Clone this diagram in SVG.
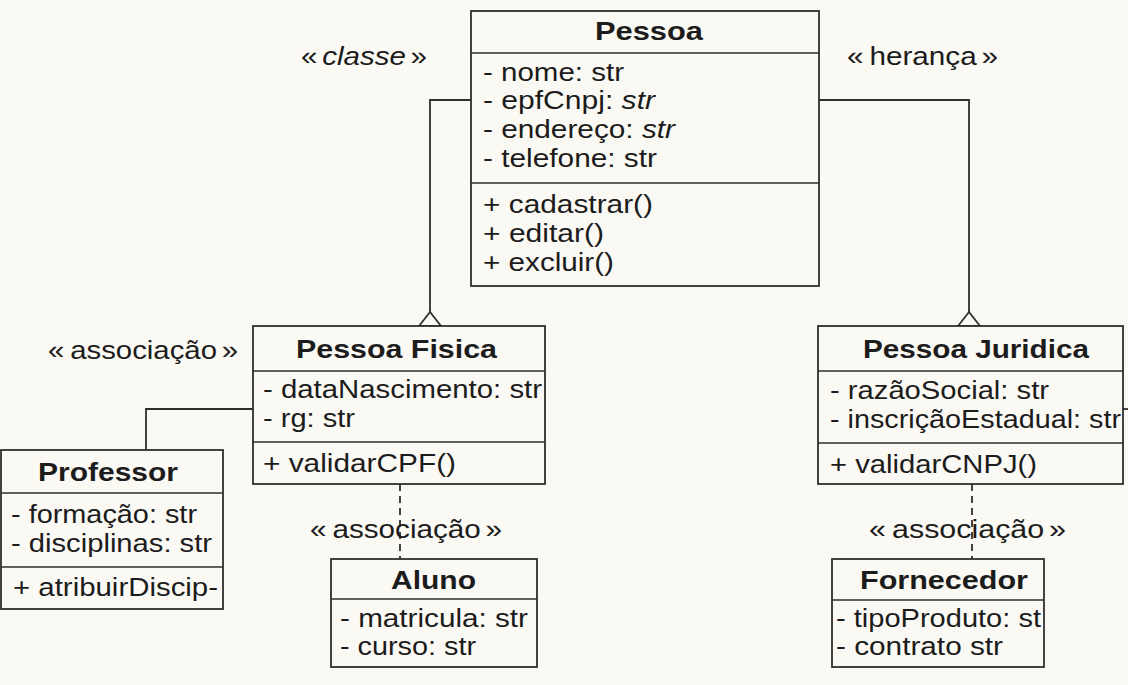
<svg xmlns="http://www.w3.org/2000/svg" width="1128" height="685" viewBox="0 0 1128 685">
<style>
text{font-family:"Liberation Sans",Arial,sans-serif;font-size:25px;fill:#1c1c1c}
.t{font-weight:bold;font-size:26px}
.i{font-style:italic}
.box{fill:#fbf9f4;stroke:#2e2e2e;stroke-width:1.8}
.div{stroke:#2e2e2e;stroke-width:1.5}
.ln{fill:none;stroke:#2e2e2e;stroke-width:1.8}
.dash{fill:none;stroke:#2e2e2e;stroke-width:1.8;stroke-dasharray:7 5}
.tri{fill:#fbf9f4;stroke:#2e2e2e;stroke-width:1.8}
</style>
<rect width="1128" height="685" fill="#fbf9f4"/>
<g id="connectors">
<polyline class="ln" points="471,100 430,100 430,312"/>
<polygon class="tri" points="430,312 419,326 441,326"/>
<polyline class="ln" points="819,100 969,100 969,312"/>
<polygon class="tri" points="969,312 958,326 980,326"/>
<polyline class="ln" points="253,409 146,409 146,450"/>
<line class="dash" x1="400" y1="484" x2="400" y2="559"/>
<line class="dash" x1="972" y1="484" x2="972" y2="559"/>
<line class="ln" x1="1123" y1="409" x2="1128" y2="409"/>
</g>
<g id="labels">
<text x="301" y="65" textLength="126" lengthAdjust="spacingAndGlyphs">«<tspan class="i" dx="4">classe</tspan><tspan dx="4">»</tspan></text>
<text x="847" y="65" textLength="151" lengthAdjust="spacingAndGlyphs">«<tspan dx="5">herança</tspan><tspan dx="4">»</tspan></text>
<text x="48" y="359" textLength="190" lengthAdjust="spacingAndGlyphs">«<tspan dx="5">associação</tspan><tspan dx="4">»</tspan></text>
<text x="310" y="538" textLength="192" lengthAdjust="spacingAndGlyphs">«<tspan dx="5">associação</tspan><tspan dx="4">»</tspan></text>
<text x="869" y="538" textLength="197" lengthAdjust="spacingAndGlyphs">«<tspan dx="5">associação</tspan><tspan dx="4">»</tspan></text>
</g>
<g id="pessoa">
<rect class="box" x="471" y="11" width="348" height="275"/>
<line class="div" x1="471" y1="53" x2="819" y2="53"/>
<line class="div" x1="471" y1="183" x2="819" y2="183"/>
<text class="t" x="595" y="40" textLength="108" lengthAdjust="spacingAndGlyphs">Pessoa</text>
<text x="483" y="81" textLength="141" lengthAdjust="spacingAndGlyphs">- nome: str</text>
<text x="483" y="109" textLength="172" lengthAdjust="spacingAndGlyphs">- epfCnpj: <tspan class="i">str</tspan></text>
<text x="483" y="138" textLength="192" lengthAdjust="spacingAndGlyphs">- endereço: <tspan class="i">str</tspan></text>
<text x="483" y="167" textLength="174" lengthAdjust="spacingAndGlyphs">- telefone: str</text>
<text x="483" y="213" textLength="170" lengthAdjust="spacingAndGlyphs">+ cadastrar()</text>
<text x="483" y="242" textLength="121" lengthAdjust="spacingAndGlyphs">+ editar()</text>
<text x="483" y="271" textLength="131" lengthAdjust="spacingAndGlyphs">+ excluir()</text>
</g>
<g id="pessoa-fisica">
<rect class="box" x="253" y="326" width="292" height="158"/>
<line class="div" x1="253" y1="371" x2="545" y2="371"/>
<line class="div" x1="253" y1="442" x2="545" y2="442"/>
<text class="t" x="296" y="358" textLength="201" lengthAdjust="spacingAndGlyphs">Pessoa Fisica</text>
<text x="263" y="398" textLength="279" lengthAdjust="spacingAndGlyphs">- dataNascimento: str</text>
<text x="263" y="427" textLength="92" lengthAdjust="spacingAndGlyphs">- rg: str</text>
<text x="263" y="472" textLength="193" lengthAdjust="spacingAndGlyphs">+ validarCPF()</text>
</g>
<g id="pessoa-juridica">
<rect class="box" x="818" y="326" width="305" height="158"/>
<line class="div" x1="818" y1="371" x2="1123" y2="371"/>
<line class="div" x1="818" y1="443" x2="1123" y2="443"/>
<text class="t" x="863" y="358" textLength="226" lengthAdjust="spacingAndGlyphs">Pessoa Juridica</text>
<text x="830" y="399" textLength="219" lengthAdjust="spacingAndGlyphs">- razãoSocial: str</text>
<text x="830" y="428" textLength="291" lengthAdjust="spacingAndGlyphs">- inscriçãoEstadual: str</text>
<text x="830" y="473" textLength="207" lengthAdjust="spacingAndGlyphs">+ validarCNPJ()</text>
</g>
<g id="professor">
<rect class="box" x="1" y="450" width="222" height="159"/>
<line class="div" x1="1" y1="493" x2="223" y2="493"/>
<line class="div" x1="1" y1="567" x2="223" y2="567"/>
<text class="t" x="38" y="481" textLength="140" lengthAdjust="spacingAndGlyphs">Professor</text>
<text x="11" y="523" textLength="186" lengthAdjust="spacingAndGlyphs">- formação: str</text>
<text x="11" y="552" textLength="201" lengthAdjust="spacingAndGlyphs">- disciplinas: str</text>
<text x="13" y="596" textLength="205" lengthAdjust="spacingAndGlyphs">+ atribuirDiscip-</text>
</g>
<g id="aluno">
<rect class="box" x="331" y="559" width="206" height="108"/>
<line class="div" x1="331" y1="599" x2="537" y2="599"/>
<text class="t" x="391" y="589" textLength="85" lengthAdjust="spacingAndGlyphs">Aluno</text>
<text x="340" y="627" textLength="188" lengthAdjust="spacingAndGlyphs">- matricula: str</text>
<text x="340" y="655" textLength="136" lengthAdjust="spacingAndGlyphs">- curso: str</text>
</g>
<g id="fornecedor">
<rect class="box" x="832" y="559" width="212" height="108"/>
<line class="div" x1="832" y1="600" x2="1044" y2="600"/>
<text class="t" x="860" y="589" textLength="168" lengthAdjust="spacingAndGlyphs">Fornecedor</text>
<text x="836" y="627" textLength="205" lengthAdjust="spacingAndGlyphs">- tipoProduto: st</text>
<text x="836" y="655" textLength="167" lengthAdjust="spacingAndGlyphs">- contrato str</text>
</g>
</svg>
